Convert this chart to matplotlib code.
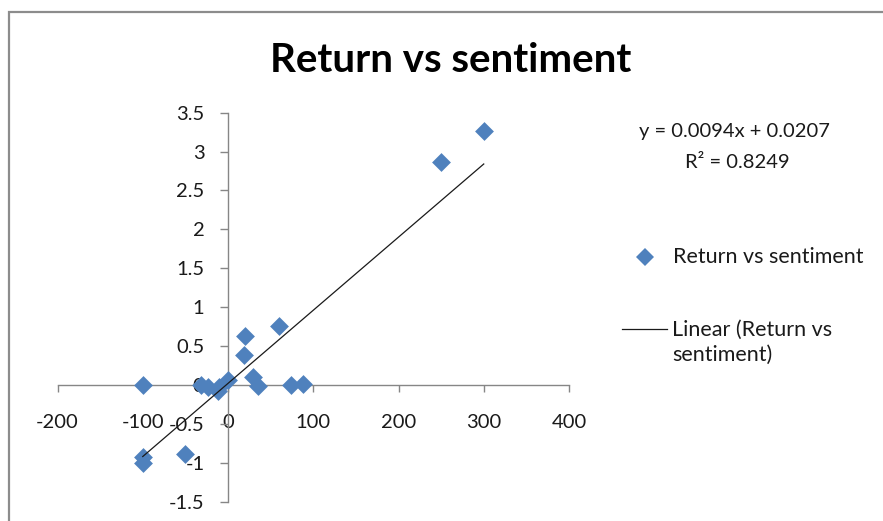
import matplotlib.pyplot as plt
from matplotlib.lines import Line2D
from matplotlib.patches import Rectangle
from matplotlib.ticker import FuncFormatter

plt.rcParams['font.family'] = ['Lato', 'DejaVu Sans']
plt.rcParams['axes.unicode_minus'] = False

# sentiment score vs return
sentiment = [300, 250, -100, -100, -100, -50, 20, 19, 60, 29, 35, 74, 88, 0, -10, -23, -32, -12]
returns = [3.26, 2.87, 0.0, -0.93, -1.0, -0.89, 0.63, 0.39, 0.76, 0.10, -0.01, 0.0, 0.01, 0.07, -0.03, -0.02, 0.0, -0.08]

# trendline as reported on the chart
slope = 0.0094
intercept = 0.0207
r_squared = 0.8249

x_ticks = [-200, -100, 0, 100, 200, 300, 400]
y_ticks = [-1.5, -1, -0.5, 0, 0.5, 1, 1.5, 2, 2.5, 3, 3.5]

W, H = 883, 521
fig = plt.figure(figsize=(W / 100, H / 100), dpi=100)

# outer chart frame (cut off at right and bottom)
fig.patches.append(Rectangle((8.5 / W, -0.2), 1.5, 1.2 - 12 / H, transform=fig.transFigure,
                             fill=False, edgecolor='#8c8c8c', lw=1.6))

ax = fig.add_axes([57.5 / W, 1 - 501.7 / H, (569 - 57.5) / W, (501.7 - 112.7) / H])
ax.set_facecolor('none')

ax.scatter(sentiment, returns, marker='D', s=92, color='#4f81bd', linewidths=0, zorder=3)

x_fit = [min(sentiment), max(sentiment)]
y_fit = [slope * v + intercept for v in x_fit]
ax.plot(x_fit, y_fit, color='#1a1a1a', lw=0.9, zorder=4)

ax.set_xlim(-200, 400)
ax.set_ylim(-1.5, 3.5)
ax.set_xticks(x_ticks)
ax.set_yticks(y_ticks)
ax.xaxis.set_major_formatter(FuncFormatter(lambda v, p: '%g' % v))
ax.yaxis.set_major_formatter(FuncFormatter(lambda v, p: '%g' % v))

for side in ['top', 'right']:
    ax.spines[side].set_visible(False)
ax.spines['left'].set_position(('data', 0))
ax.spines['bottom'].set_position(('data', 0))
for side in ['left', 'bottom']:
    ax.spines[side].set_color('#868686')
    ax.spines[side].set_linewidth(1.0)

ax.tick_params(axis='x', direction='out', length=5, width=1, color='#868686',
               pad=16, labelsize=14.5, labelcolor='#1a1a1a')
ax.tick_params(axis='y', direction='out', length=6, width=1, color='#868686',
               pad=11, labelsize=14.5, labelcolor='#1a1a1a')

fig.text(451 / W, 1 - 61 / H, 'Return vs sentiment', ha='center', va='center',
         fontsize=29, fontweight='bold', color='black')

# trendline equation
fig.text(734 / W, 1 - 132 / H, 'y = %.4fx + %.4f' % (slope, intercept), ha='center', va='center',
         fontsize=14.5, color='#1a1a1a')
fig.text(737 / W, 1 - 162 / H, 'R² = %.4f' % r_squared, ha='center', va='center',
         fontsize=14.5, color='#1a1a1a')

# legend drawn by hand
fig.lines.append(Line2D([645 / W], [1 - 257 / H], marker='D', ms=9, color='#4f81bd',
                        markeredgewidth=0, transform=fig.transFigure))
fig.text(673 / W, 1 - 257 / H, 'Return vs sentiment', ha='left', va='center',
         fontsize=15.5, color='#1a1a1a')
fig.lines.append(Line2D([622 / W, 667 / W], [1 - 329 / H, 1 - 329 / H], color='#1a1a1a',
                        lw=0.9, transform=fig.transFigure))
fig.text(672 / W, 1 - 342.5 / H, 'Linear (Return vs\nsentiment)', ha='left', va='center',
         fontsize=15.5, color='#1a1a1a', linespacing=1.3)

fig.savefig('out.png', dpi=100)
